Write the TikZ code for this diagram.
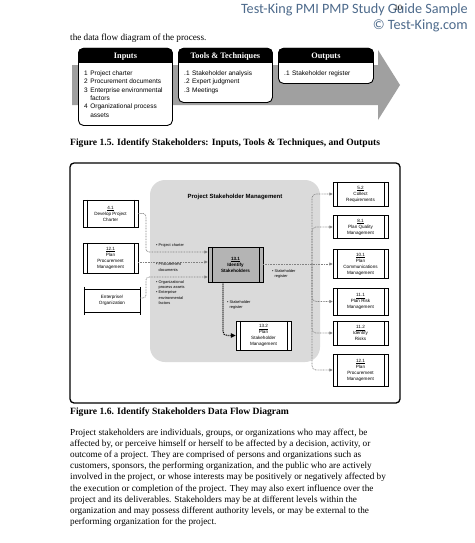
\documentclass[tikz,border=0pt]{standalone}
\usepackage{fontspec}
\setmainfont{Liberation Serif}
\setsansfont{Liberation Sans}
\newfontfamily\hdrfont{Carlito}
\usetikzlibrary{arrows.meta,calc}
\definecolor{hdrblue}{RGB}{78,107,140}
\definecolor{flowgray}{RGB}{130,130,130}
\definecolor{bandgray}{RGB}{160,160,160}
\definecolor{regiongray}{RGB}{218,218,218}
\definecolor{procgray}{RGB}{180,180,180}
\newcommand\dblbar[2][4.5]{\draw[line width=0.5pt] ($(#2.north west)+(#1,0)$) -- ($(#2.south west)+(#1,0)$) ($(#2.north east)+(-#1,0)$) -- ($(#2.south east)+(-#1,0)$);}
\tikzset{
  ittobox/.style={draw=black, line width=0.9pt, fill=white, rounded corners=5pt, inner sep=0, anchor=north west},
  ittohead/.style={text=white, font=\bfseries\fontsize{8.3}{9}\selectfont, inner sep=0},
  ittotext/.style={anchor=north west, inner sep=0, font=\sffamily\fontsize{6.5}{8.3}\selectfont},
  procbox/.style={draw=black, line width=0.5pt, fill=white, minimum width=55pt, inner sep=0.5pt, align=center, font=\sffamily\fontsize{4.6}{6}\selectfont},
  flowlabel/.style={anchor=north west, inner sep=0, align=left, font=\sffamily\fontsize{3.9}{5.2}\selectfont},
  flow/.style={draw=flowgray, line width=0.7pt, dash pattern=on 0.8pt off 0.8pt, -{Triangle[length=3.5pt,width=3pt,fill=flowgray]}},
  flowbold/.style={draw=black, line width=1.2pt, dash pattern=on 1pt off 1pt, -{Triangle[length=5pt,width=4.5pt,fill=black]}},
  bodytext/.style={inner sep=0, align=left, font=\fontsize{9.2}{11.2}\selectfont},
  caption/.style={anchor=west, inner sep=0, font=\bfseries\fontsize{9.6}{11}\selectfont}
}
\begin{document}
\begin{tikzpicture}[x=1pt,y=-1pt]
\useasboundingbox (0,0) rectangle (474,543);
\fill[white] (0,0) rectangle (474,543);

% header
\node[anchor=north east, align=right, inner sep=0, text=hdrblue, font=\hdrfont\fontsize{14.2}{16.5}\selectfont] (hdr) at (468,3) {Test-King PMI PMP Study Guide Sample\\\textcopyright{} Test-King.com};
\node[inner sep=0, font=\fontsize{8}{8}\selectfont] (pgnum) at (398,8) {10};

\node[anchor=west, bodytext] (intro) at (70,38.5) {the data flow diagram of the process.};

% ITTO arrow
\fill[bandgray] (72,65) -- (378,65) -- (378,50) -- (400,85) -- (378,120) -- (378,105) -- (72,105) -- cycle;
\node[ittobox, minimum width=94pt, minimum height=77pt] (inbox) at (78,48) {};
\node[ittobox, minimum width=94pt, minimum height=54pt] (ttbox) at (178,48) {};
\node[ittobox, minimum width=95pt, minimum height=35pt] (outbox) at (278,48) {};
\foreach \b in {inbox,ttbox,outbox}{
  \fill[black] ($(\b.north west)+(0,15)$) [rounded corners=5pt] -- (\b.north west) -- (\b.north east) [sharp corners] -- ($(\b.north east)+(0,15)$) -- cycle;
}
\node[ittohead] (inhead) at ($(inbox.north)+(0,8.5)$) {Inputs};
\node[ittohead] (tthead) at ($(ttbox.north)+(0,8.5)$) {Tools \& Techniques};
\node[ittohead] (outhead) at ($(outbox.north)+(0,8.5)$) {Outputs};
\node[ittotext] (intext) at (84,69.5) {\begin{tabular}{@{}l@{\hspace{2.5pt}}l@{}}1 & Project charter\\2 & Procurement documents\\3 & Enterprise environmental\\ & factors\\4 & Organizational process\\ & assets\end{tabular}};
\node[ittotext] (tttext) at (184,69.5) {\begin{tabular}{@{}l@{\hspace{2.5pt}}l@{}}.1 & Stakeholder analysis\\.2 & Expert judgment\\.3 & Meetings\end{tabular}};
\node[ittotext] (outtext) at (284,69.5) {\begin{tabular}{@{}l@{\hspace{2.5pt}}l@{}}.1 & Stakeholder register\end{tabular}};

\node[caption] (cap15) at (70,143) {Figure 1.5. Identify Stakeholders: Inputs, Tools \& Techniques, and Outputs};

% data flow diagram
\draw[line width=1.3pt, rounded corners=4pt] (70,163) rectangle (400,403);
\fill[regiongray, rounded corners=15pt] (150,180) rectangle (320,362);
\node[inner sep=0, font=\sffamily\bfseries\fontsize{6}{7}\selectfont] (pstitle) at (235,197) {Project Stakeholder Management};

\node[procbox, minimum height=27pt] (b41) at (110.5,213.5) {\underline{4.1}\\Develop Project\\Charter};
\node[procbox, minimum height=30pt] (b121L) at (110.5,258) {\underline{12.1}\\Plan\\Procurement\\Management};
\node[inner sep=0, minimum width=56pt, minimum height=23pt, align=center, font=\sffamily\fontsize{4.6}{6}\selectfont] (ent) at (112,300.5) {Enterprise/\\Organization};
\draw[line width=0.5pt] (ent.north west) -- (ent.north east) (ent.south west) -- (ent.south east)
  ($(ent.north west)+(0,-2)$) -- ($(ent.south west)+(0,3)$)
  ($(ent.north east)+(0,-2)$) -- ($(ent.south east)+(0,3)$);

\node[procbox, fill=procgray, minimum height=35pt, font=\sffamily\bfseries\fontsize{4.6}{6}\selectfont] (b131) at (235.5,264.5) {\underline{13.1}\\Identify\\Stakeholders};
\node[procbox, minimum height=29pt] (b132) at (263.5,335.5) {\underline{13.2}\\Plan\\Stakeholder\\Management};

\node[procbox, minimum height=24pt] (b52) at (360.5,194) {\underline{5.2}\\Collect\\Requirements};
\node[procbox, minimum height=23pt] (b81) at (360.5,227) {\underline{8.1}\\Plan Quality\\Management};
\node[procbox, minimum height=29pt] (b101) at (360.5,264) {\underline{10.1}\\Plan\\Communications\\Management};
\node[procbox, minimum height=27pt] (b111) at (360.5,301.5) {\underline{11.1}\\Plan Risk\\Management};
\node[procbox, minimum height=24pt] (b112) at (360.5,333) {\underline{11.2}\\Identify\\Risks};
\node[procbox, minimum height=32pt] (b121R) at (360.5,370) {\underline{12.1}\\Plan\\Procurement\\Management};
\foreach \n in {b41,b121L,b131,b132,b52,b81,b101,b111,b112,b121R}{\dblbar{\n}}

% input flows
\draw[flow, rounded corners=3pt] (b41.east) -- (146,213.5) -- (146,252) -- (b131.west |- 0,252);
\draw[flow] (b121L.east |- 0,262) -- (b131.west |- 0,262);
\draw[flow, rounded corners=3pt] (ent.east |- 0,298) -- (146,298) -- (146,277) -- (b131.west |- 0,277);
\node[flowlabel] (lpc) at (156,243.5) {\textbullet\ Project charter};
\node[flowlabel] (lpd) at (156,263) {\textbullet\ Procurement\\\phantom{\textbullet\ }documents};
\node[flowlabel] (lopa) at (156,280.5) {\textbullet\ Organizational\\\phantom{\textbullet\ }process assets\\\textbullet\ Enterprise\\\phantom{\textbullet\ }environmental\\\phantom{\textbullet\ }factors};

% output flows
\coordinate (bus) at (312,264);
\draw[flow] (b131.east |- 0,264) -- (b101.west);
\foreach \t in {b52,b81,b111,b112,b121R}{
  \draw[flow, rounded corners=4pt] (bus) |- (\t.west);
}
\node[flowlabel] (lsr) at (272,269) {\textbullet\ Stakeholder\\\phantom{\textbullet\ }register};

\draw[flowbold, rounded corners=4pt] (b131.south -| 223,0) |- (b132.west);
\node[flowlabel] (lsr2) at (227,300) {\textbullet\ Stakeholder\\\phantom{\textbullet\ }register};

\node[caption] (cap16) at (70,412) {Figure 1.6. Identify Stakeholders Data Flow Diagram};

\node[bodytext, anchor=north west] (para) at (70,428.5) {Project stakeholders are individuals, groups, or organizations who may affect, be\\
affected by, or perceive himself or herself to be affected by a decision, activity, or\\
outcome of a project. They are comprised of persons and organizations such as\\
customers, sponsors, the performing organization, and the public who are actively\\
involved in the project, or whose interests may be positively or negatively affected by\\
the execution or completion of the project. They may also exert influence over the\\
project and its deliverables. Stakeholders may be at different levels within the\\
organization and may possess different authority levels, or may be external to the\\
performing organization for the project.};
\end{tikzpicture}
\end{document}
